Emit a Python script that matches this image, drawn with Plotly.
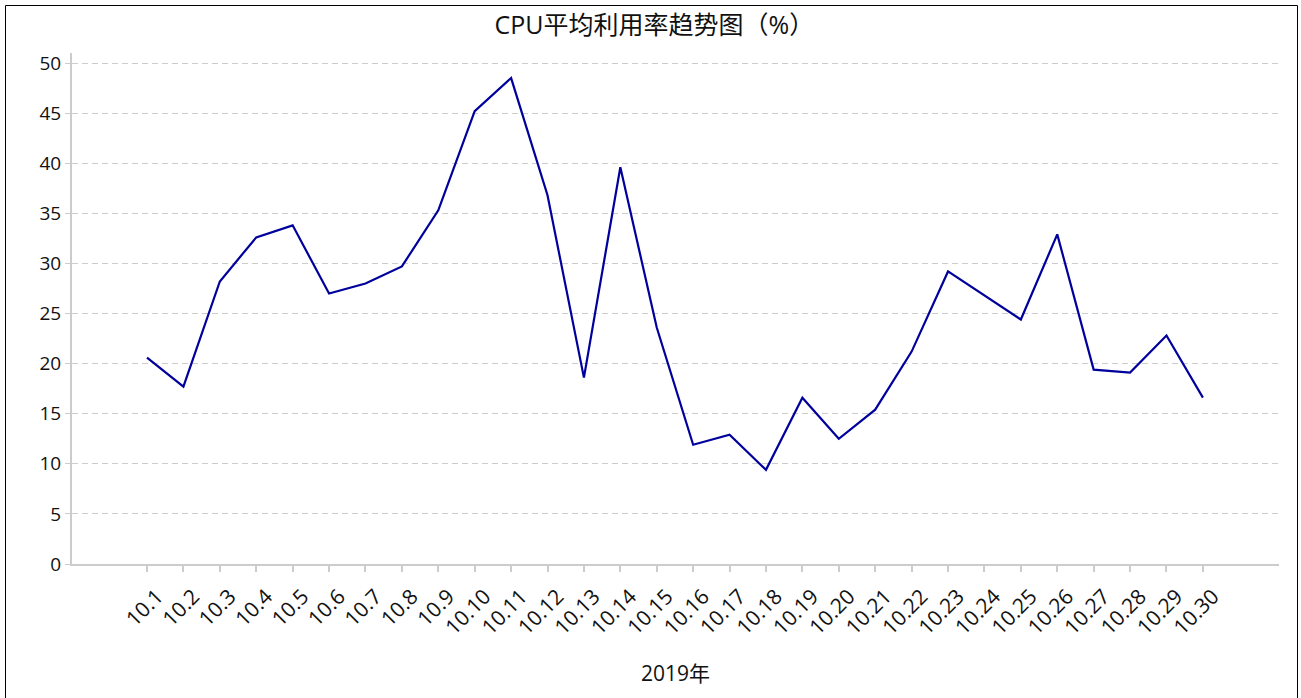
import plotly.graph_objects as go

days = ["10.%d" % d for d in range(1, 31)]
cpu_avg = [20.6, 17.7, 28.2, 32.6, 33.8, 27.0, 28.0, 29.7, 35.3, 45.2,
           48.5, 36.8, 18.6, 39.6, 23.6, 11.9, 12.9, 9.4, 16.6, 12.5,
           15.4, 21.2, 29.2, 26.8, 24.4, 32.9, 19.4, 19.1, 22.8, 16.6]
y_ticks = list(range(0, 55, 5))

font = "Open Sans, Noto Sans CJK SC, sans-serif"
axis_grey = "#cccccc"

fig = go.Figure()
fig.add_trace(go.Scatter(
    x=list(range(len(days))), y=cpu_avg, mode="lines",
    line=dict(color="#00009c", width=2.2), hoverinfo="y",
))

fig.update_layout(
    width=1301, height=698,
    margin=dict(l=72, r=22, t=53, b=134),
    paper_bgcolor="white", plot_bgcolor="white",
    font=dict(family=font, size=19, color="#111"),
    showlegend=False,
    title=dict(text="CPU平均利用率趋势图（%）", x=0.503, xref="container",
               xanchor="center", y=0.964, yanchor="middle",
               font=dict(size=25, color="#111")),
)

fig.update_xaxes(
    range=[-2.06, 31.09], tickmode="array",
    tickvals=list(range(len(days))), ticktext=days, tickangle=-45,
    tickfont=dict(size=21), ticklabelshift=10, ticklabelstandoff=4,
    showgrid=False, zeroline=False,
    showline=True, linecolor=axis_grey, linewidth=2,
    ticks="outside", ticklen=6, tickwidth=2, tickcolor=axis_grey,
    title=dict(text="2019年", standoff=27, font=dict(size=21)),
    automargin=False,
)
fig.update_yaxes(
    range=[0, 51], tickvals=y_ticks,
    showgrid=True, gridcolor=axis_grey, gridwidth=1, griddash="6px,4px",
    zeroline=False,
    showline=True, linecolor=axis_grey, linewidth=2,
    ticks="outside", ticklen=5, tickwidth=1, tickcolor=axis_grey,
    automargin=False,
)

# black frame around the chart
fig.add_shape(type="rect", xref="paper", yref="paper",
              x0=(5.5 - 72) / 1207, x1=(1297.5 - 72) / 1207,
              y0=(564 - 720) / 511, y1=(564 - 5.5) / 511,
              line=dict(color="black", width=1), fillcolor="rgba(0,0,0,0)",
              layer="below")

fig.write_html("out.html", config={"displayModeBar": False},
               post_script="document.body.style.margin='0';")
